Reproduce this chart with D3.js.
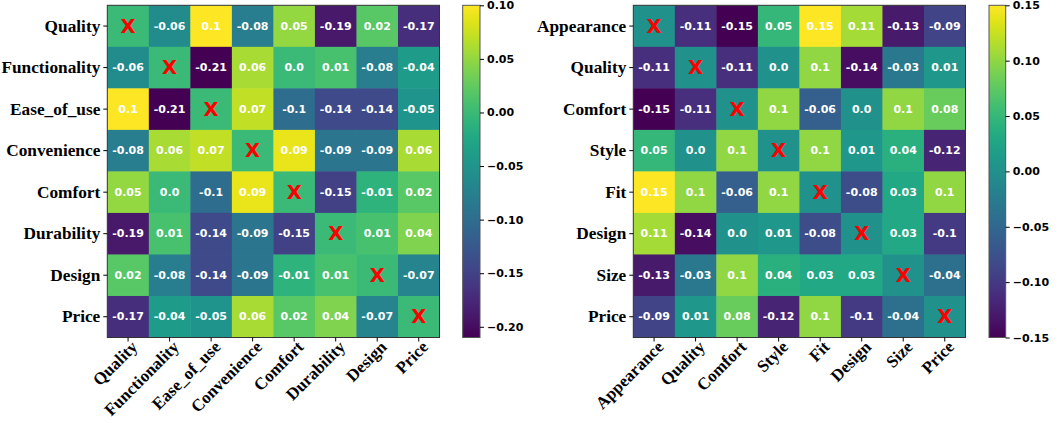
<!DOCTYPE html>
<html>
<head>
<meta charset="utf-8">
<script src="https://cdn.jsdelivr.net/npm/d3@7"></script>
<style>
  html, body { margin: 0; padding: 0; background: #fff; }
  svg { display: block; }
</style>
</head>
<body>
<svg id="chart" width="1059" height="423"></svg>
<script>
// ---------- DATA ----------
const leftLabels = ["Quality", "Functionality", "Ease_of_use", "Convenience", "Comfort", "Durability", "Design", "Price"];
const leftValues = [
  [0, -0.06, 0.1, -0.08, 0.05, -0.19, 0.02, -0.17],
  [-0.06, 0, -0.21, 0.06, 0.0, 0.01, -0.08, -0.04],
  [0.1, -0.21, 0, 0.07, -0.1, -0.14, -0.14, -0.05],
  [-0.08, 0.06, 0.07, 0, 0.09, -0.09, -0.09, 0.06],
  [0.05, 0.0, -0.1, 0.09, 0, -0.15, -0.01, 0.02],
  [-0.19, 0.01, -0.14, -0.09, -0.15, 0, 0.01, 0.04],
  [0.02, -0.08, -0.14, -0.09, -0.01, 0.01, 0, -0.07],
  [-0.17, -0.04, -0.05, 0.06, 0.02, 0.04, -0.07, 0]
];
const leftTicks = [-0.20, -0.15, -0.10, -0.05, 0.00, 0.05, 0.10];

const rightLabels = ["Appearance", "Quality", "Comfort", "Style", "Fit", "Design", "Size", "Price"];
const rightValues = [
  [0, -0.11, -0.15, 0.05, 0.15, 0.11, -0.13, -0.09],
  [-0.11, 0, -0.11, 0.0, 0.1, -0.14, -0.03, 0.01],
  [-0.15, -0.11, 0, 0.1, -0.06, 0.0, 0.1, 0.08],
  [0.05, 0.0, 0.1, 0, 0.1, 0.01, 0.04, -0.12],
  [0.15, 0.1, -0.06, 0.1, 0, -0.08, 0.03, 0.1],
  [0.11, -0.14, 0.0, 0.01, -0.08, 0, 0.03, -0.1],
  [-0.13, -0.03, 0.1, 0.04, 0.03, 0.03, 0, -0.04],
  [-0.09, 0.01, 0.08, -0.12, 0.1, -0.1, -0.04, 0]
];
const rightTicks = [-0.15, -0.10, -0.05, 0.00, 0.05, 0.10, 0.15];

// ---------- DRAW ----------
const svg = d3.select("#chart");
const serif = "'Liberation Serif', 'Times New Roman', serif";
const sans = "'DejaVu Sans', sans-serif";

function fmt(v) {
  let s = String(v);
  if (s.indexOf(".") < 0) s += ".0";
  return s;
}

function heatmap(opts) {
  const { labels, values, ticks, left, top, size, cbLeft, cbWidth } = opts;
  const flat = values.flat();
  const vmin = d3.min(flat), vmax = d3.max(flat);
  const color = d3.scaleSequential(d3.interpolateViridis).domain([vmin, vmax]);
  const x = d3.scaleBand().domain(labels).range([left, left + size]);
  const y = d3.scaleBand().domain(labels).range([top, top + size]);
  const g = svg.append("g");

  const cells = [];
  values.forEach((row, i) => row.forEach((v, j) => cells.push({ i, j, v })));

  g.selectAll("rect.cell").data(cells).join("rect")
    .attr("class", "cell")
    .attr("x", d => x(labels[d.j]))
    .attr("y", d => y(labels[d.i]))
    .attr("width", x.bandwidth() + 0.5)
    .attr("height", y.bandwidth() + 0.5)
    .attr("fill", d => color(d.v));

  g.selectAll("text.val").data(cells).join("text")
    .attr("class", "val")
    .attr("x", d => x(labels[d.j]) + x.bandwidth() / 2)
    .attr("y", d => y(labels[d.i]) + y.bandwidth() / 2)
    .attr("text-anchor", "middle")
    .attr("dominant-baseline", "central")
    .attr("font-family", sans)
    .attr("font-weight", "bold")
    .attr("font-size", d => d.i === d.j ? 19.5 : 11)
    .attr("fill", d => d.i === d.j ? "#ff0000" : "#ffffff")
    .text(d => d.i === d.j ? "X" : fmt(d.v));

  // frame
  g.append("rect")
    .attr("x", left).attr("y", top).attr("width", size).attr("height", size)
    .attr("fill", "none").attr("stroke", "#333").attr("stroke-width", 1);

  // axes
  const yAxis = g.append("g").attr("transform", `translate(${left},0)`)
    .call(d3.axisLeft(y).tickSize(4).tickPadding(3));
  yAxis.select(".domain").remove();
  yAxis.selectAll("text")
    .attr("font-family", serif).attr("font-weight", "bold").attr("font-size", 17.3)
    .attr("fill", "#000");

  const xAxis = g.append("g").attr("transform", `translate(0,${top + size})`)
    .call(d3.axisBottom(x).tickSize(4).tickPadding(2));
  xAxis.select(".domain").remove();
  xAxis.selectAll("text")
    .attr("font-family", serif).attr("font-weight", "bold").attr("font-size", 17)
    .attr("fill", "#000")
    .attr("text-anchor", "end")
    .attr("dx", "0.25em")
    .attr("dy", "0.62em")
    .attr("transform", "rotate(-45 0 6)");

  // colorbar
  const cb = d3.scaleLinear().domain([vmin, vmax]).range([top + size, top]);
  const gradId = "grad" + Math.round(left);
  const defs = svg.append("defs");
  const grad = defs.append("linearGradient").attr("id", gradId)
    .attr("x1", 0).attr("y1", 1).attr("x2", 0).attr("y2", 0);
  d3.range(0, 1.0001, 0.05).forEach(t => {
    grad.append("stop").attr("offset", t).attr("stop-color", d3.interpolateViridis(t));
  });
  g.append("rect")
    .attr("x", cbLeft).attr("y", top).attr("width", cbWidth).attr("height", size)
    .attr("fill", `url(#${gradId})`)
    .attr("stroke", "#555").attr("stroke-width", 1);
  const cbAxis = g.append("g").attr("transform", `translate(${cbLeft + cbWidth},0)`)
    .call(d3.axisRight(cb).tickValues(ticks).tickFormat(d3.format(".2f")).tickSize(4).tickPadding(3));
  cbAxis.select(".domain").remove();
  cbAxis.selectAll("text")
    .attr("font-family", sans).attr("font-weight", "bold").attr("font-size", 11)
    .attr("fill", "#000");
}

heatmap({ labels: leftLabels, values: leftValues, ticks: leftTicks,
  left: 107.3, top: 5.3, size: 332.2, cbLeft: 462.7, cbWidth: 17.3 });
heatmap({ labels: rightLabels, values: rightValues, ticks: rightTicks,
  left: 633.3, top: 5.3, size: 332.2, cbLeft: 989, cbWidth: 16.7 });
</script>
</body>
</html>
